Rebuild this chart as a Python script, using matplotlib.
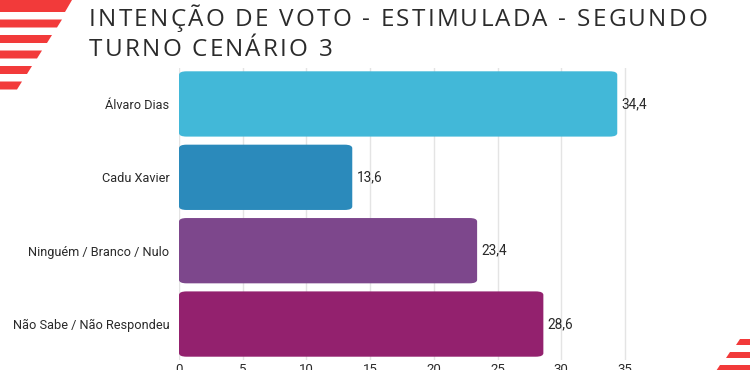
import matplotlib.pyplot as plt
from matplotlib.patches import Polygon, FancyBboxPatch

# data
categories = ["Álvaro Dias", "Cadu Xavier", "Ninguém / Branco / Nulo", "Não Sabe / Não Respondeu"]
values = [34.4, 13.6, 23.4, 28.6]
colors = ["#42B8D8", "#2B8ABB", "#7D478C", "#93216E"]
ticks = [0, 5, 10, 15, 20, 25, 30, 35]
title_lines = ["INTENÇÃO DE VOTO - ESTIMULADA - SEGUNDO", "TURNO CENÁRIO 3"]

fig = plt.figure(figsize=(7.5, 3.7), dpi=100)
ax = fig.add_axes([179 / 750, 10 / 370, (740 - 179) / 750, 292 / 370])

bar_h = 0.89
for i, (v, c) in enumerate(zip(values, colors)):
    box = FancyBboxPatch((0, i - bar_h / 2), v, bar_h,
                         boxstyle="round,pad=0,rounding_size=0.6",
                         mutation_aspect=0.08, fc=c, ec="none", zorder=2)
    ax.add_patch(box)
    ax.text(v + 0.35, i, f"{v:.1f}".replace(".", ","), va="center", ha="left",
            fontsize=9.8, color="#2a2a2a", family="Roboto")

ax.set_xlim(0, (740 - 179) / 12.74)
ax.set_ylim(3.49, -0.49)
ax.set_yticks(range(len(categories)))
ax.set_yticklabels(categories, fontsize=9.2, color="#2a2a2a", family="Roboto")
ax.set_xticks(ticks)
ax.set_xticklabels([str(t) for t in ticks], fontsize=9.5, color="#2a2a2a", family="Roboto")
ax.tick_params(length=0, pad=7)
ax.tick_params(axis="x", pad=2)
ax.grid(axis="x", color="#e4e4e4", linewidth=1, zorder=0)
for s in ax.spines.values():
    s.set_visible(False)

# title with letter spacing, drawn one character at a time
renderer = fig.canvas.get_renderer()
tracking = 2.2  # extra px between letters
for li, line in enumerate(title_lines):
    x = 89.0
    y = 1 - (8 + li * 30) / 370
    for ch in line:
        t = fig.text(x / 750, y, ch, ha="left", va="top", fontsize=17.5,
                     color="#2b2b2b", family="Open Sans")
        if ch == " ":
            w = 17.5 * 100 / 72 * 0.26
        else:
            w = t.get_window_extent(renderer).width
        x += w + tracking

# red decorative stripes
red = "#F23A3A"
for k in range(6):
    y0 = 370 - 4 - k * 15.5
    x1 = 72 - k * 10
    pts = [(0, y0), (x1, y0), (x1 - 5, y0 - 8), (0, y0 - 8)]
    if k == 0:
        pts = [(0, 370), (x1, 370), (x1 - 7, y0 - 8), (0, y0 - 8)]
    fig.patches.append(Polygon([(x / 750, y / 370) for x, y in pts],
                               closed=True, transform=fig.transFigure, fc=red, ec="none"))
for k in range(3):
    y0 = 31 - k * 13
    x0 = 740 - k * 10
    pts = [(x0, y0), (750, y0), (750, y0 - 6), (x0 - 4, y0 - 6)]
    fig.patches.append(Polygon([(x / 750, y / 370) for x, y in pts],
                               closed=True, transform=fig.transFigure, fc=red, ec="none"))

fig.savefig("out.png", dpi=100)
